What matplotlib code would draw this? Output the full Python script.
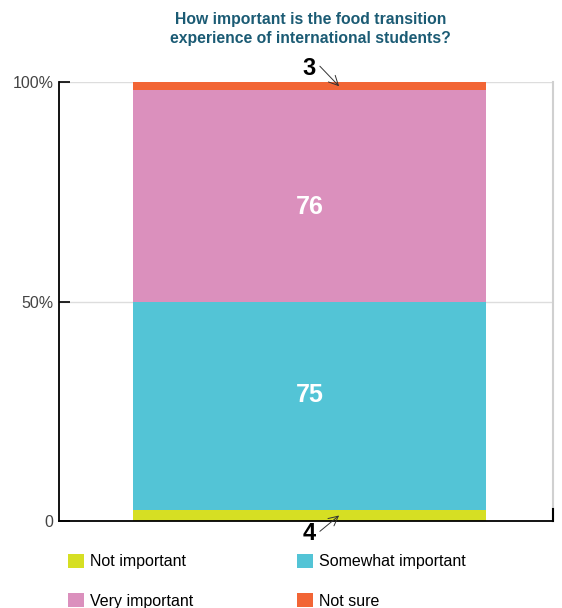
import matplotlib.pyplot as plt

plt.rcParams["font.family"] = ["Liberation Sans", "DejaVu Sans"]

TITLE = "How important is the food transition\nexperience of international students?"
CATEGORIES = ["Not important", "Somewhat important", "Very important", "Not sure"]
COUNTS = [4, 75, 76, 3]
COLORS = ["#d6df23", "#53c4d6", "#db90bd", "#f26535"]
Y_TICKS = [0, 50, 100]
Y_TICK_LABELS = ["0", "50%", "100%"]

total = sum(COUNTS)
shares = [c / total * 100 for c in COUNTS]

fig = plt.figure(figsize=(5.62, 6.08), dpi=100)
ax = fig.add_axes([0.105, 0.143, 0.879, 0.722])

bottom = 0.0
mids = []
handles = []
for cat, val, col in zip(CATEGORIES, shares, COLORS):
    b = ax.bar(0, val, width=0.715, bottom=bottom, color=col, label=cat, zorder=2)
    handles.append(b)
    mids.append(bottom + val / 2)
    bottom += val

ax.set_xlim(-0.507, 0.493)
ax.set_ylim(0, 100)
ax.set_xticks([])
ax.set_yticks(Y_TICKS)
ax.set_yticklabels(Y_TICK_LABELS, fontsize=11.5, color="#444444")
ax.tick_params(axis="y", direction="in", length=8, width=1.2, pad=4)
ax.yaxis.grid(True, color="#dddddd", linewidth=1, zorder=0)

for side in ["left", "bottom"]:
    ax.spines[side].set_color("black")
    ax.spines[side].set_linewidth(1.3)
ax.spines["top"].set_visible(False)
ax.spines["right"].set_color("#d0d0d0")
ax.spines["right"].set_linewidth(1.5)
# short black end mark on the right of the x axis
ax.plot([1, 1], [0, 0.028], transform=ax.transAxes, color="black",
        linewidth=1.5, clip_on=False, zorder=5)

# big segments labelled inside (nudged toward the 50% line)
ax.text(0, mids[1] + 2.5, str(COUNTS[1]), ha="center", va="center",
        color="white", fontsize=18, fontweight="bold", zorder=3)
ax.text(0, mids[2] - 2.5, str(COUNTS[2]), ha="center", va="center",
        color="white", fontsize=18, fontweight="bold", zorder=3)

# thin segments labelled outside with arrows
ax.annotate(str(COUNTS[3]), xy=(0.06, mids[3]), xytext=(0.0, 103.2),
            ha="center", va="center", fontsize=17, fontweight="bold",
            annotation_clip=False,
            arrowprops=dict(arrowstyle="->", color="#333333", lw=0.7,
                            shrinkA=1, shrinkB=0, relpos=(1, 0.75)))
ax.annotate(str(COUNTS[0]), xy=(0.06, mids[0]), xytext=(0.0, -2.8),
            ha="center", va="center", fontsize=17, fontweight="bold",
            annotation_clip=False,
            arrowprops=dict(arrowstyle="->", color="#333333", lw=0.7,
                            shrinkA=1, shrinkB=0, relpos=(1, 0.45)))

fig.text(0.553, 0.952, TITLE, ha="center", va="center", fontsize=11.3,
         fontweight="bold", color="#1b5b74", linespacing=1.3)

# legend filled row by row: reorder so ncol=2 reads left-to-right
order = [0, 2, 1, 3]
fig.legend([handles[i] for i in order], [CATEGORIES[i] for i in order],
           loc="upper left", bbox_to_anchor=(0.1105, 0.1), ncol=2,
           frameon=False, fontsize=11.5, handlelength=1.0, handleheight=1.0,
           handletextpad=0.375, columnspacing=6.45, labelspacing=1.5,
           borderaxespad=0)

fig.savefig("out.png", dpi=100)
